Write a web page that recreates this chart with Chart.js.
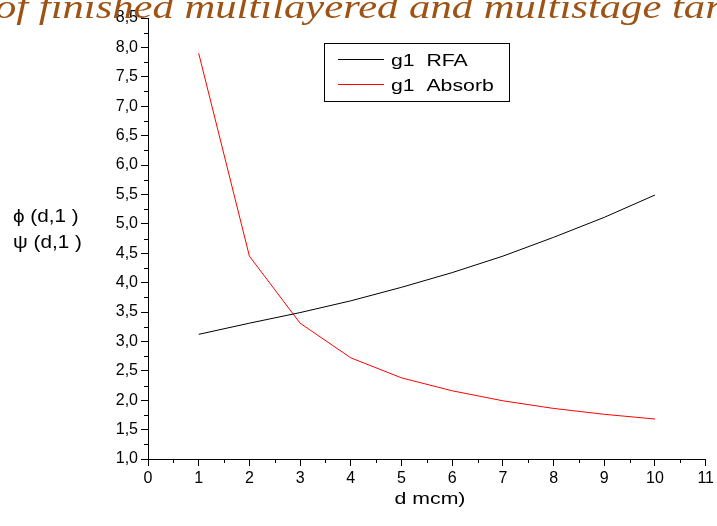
<!DOCTYPE html>
<html>
<head>
<meta charset="utf-8">
<script src="https://cdn.jsdelivr.net/npm/chart.js@4"></script>
<style>
  html, body { margin: 0; padding: 0; background: #fff; }
  #wrap { width: 717px; height: 526px; position: relative; }
</style>
</head>
<body>
<div id="wrap"><canvas id="myChart"></canvas></div>
<script>
// values
const dValues = [1, 2, 3, 4, 5, 6, 7, 8, 9, 10];
const rfaValues = [3.12, 3.31, 3.49, 3.69, 3.92, 4.17, 4.45, 4.77, 5.11, 5.49];
const absorbValues = [7.9, 4.45, 3.31, 2.72, 2.38, 2.16, 1.99, 1.86, 1.76, 1.68];
const seriesNames = ["g1  RFA", "g1  Absorb"];
const titleText = "of finished multilayered and multistage targets";
const yTitleLines = ["\u03d5 (d,1 )", "\u03c8 (d,1 )"];
const xTitle = "d mcm)";

const toPoints = (ys) => dValues.map((d, i) => ({ x: d, y: ys[i] }));

// text in the picture is a bit wider than the fonts, so squeeze it out sideways
const stretchText = (c, text, x, y, sx, align) => {
    const w = c.measureText(text).width * sx;
    let left = x;
    if (align === "center") left = x - w / 2;
    c.save();
    c.textAlign = "left";
    c.translate(left, y);
    c.scale(sx, 1);
    c.fillText(text, 0, 0);
    c.restore();
};

// minor ticks, legend box and loose text
const extras = {
    id: "extras",
    afterDraw(chart) {
        const c = chart.ctx;
        const xs = chart.scales.x, ys = chart.scales.y;
        const area = chart.chartArea;
        c.save();
        c.strokeStyle = "#000";
        c.lineWidth = 1;
        c.beginPath();
        for (let v = 1.25; v < 8.5; v += 0.5) {
            const py = Math.round(ys.getPixelForValue(v)) + 0.5;
            c.moveTo(area.left - 4, py);
            c.lineTo(area.left, py);
        }
        for (let v = 0.5; v < 11; v += 1) {
            const px = Math.round(xs.getPixelForValue(v)) + 0.5;
            c.moveTo(px, area.bottom);
            c.lineTo(px, area.bottom + 4);
        }
        c.stroke();

        // legend
        c.strokeStyle = "#000";
        c.strokeRect(324.5, 43.5, 185, 58);
        c.font = "17px 'Liberation Sans', Arial, sans-serif";
        c.textBaseline = "alphabetic";
        chart.data.datasets.forEach((ds, i) => {
            const ly = 59 + i * 25;
            c.strokeStyle = ds.borderColor;
            c.beginPath();
            c.moveTo(338, ly + 0.5);
            c.lineTo(384, ly + 0.5);
            c.stroke();
            c.fillStyle = "#000";
            stretchText(c, ds.label, 391, ly + 7, 1.25, "left");
        });

        // y title
        c.font = "18px 'Liberation Sans', 'DejaVu Sans', sans-serif";
        stretchText(c, yTitleLines[0], 13, 222, 1.15, "left");
        stretchText(c, yTitleLines[1], 13, 248, 1.15, "left");

        // x title
        c.font = "17px 'Liberation Sans', Arial, sans-serif";
        stretchText(c, xTitle, 430, 504, 1.25, "center");

        // big title, clipped by canvas edges
        c.fillStyle = "rgb(158, 82, 20)";
        c.font = "italic 33px 'Liberation Serif', 'Times New Roman', serif";
        const w2 = c.measureText("of finished multilayered and multistage ").width;
        const sx = (672 + 5) / w2;
        stretchText(c, titleText, -5, 18, sx, "left");
        c.restore();
    }
};

const ctx = document.getElementById("myChart").getContext("2d");
const myChart = new Chart(ctx, {
    type: "line",
    data: {
        datasets: [
            {
                label: seriesNames[0],
                data: toPoints(rfaValues),
                borderColor: "#000000",
                borderWidth: 1,
                pointRadius: 0,
                tension: 0
            },
            {
                label: seriesNames[1],
                data: toPoints(absorbValues),
                borderColor: "#ff0000",
                borderWidth: 1,
                pointRadius: 0,
                tension: 0
            }
        ]
    },
    options: {
        responsive: true,
        maintainAspectRatio: false,
        animation: false,
        layout: { padding: { left: 78, right: 9, top: 18, bottom: 7 } },
        plugins: { legend: { display: false }, tooltip: { enabled: false } },
        scales: {
            x: {
                type: "linear",
                min: 0,
                max: 11,
                afterFit: (s) => { s.height = 60; },
                ticks: {
                    stepSize: 1,
                    color: "#000",
                    padding: 3,
                    maxRotation: 0,
                    font: { family: "'Liberation Sans', Arial, sans-serif", size: 16 }
                },
                grid: { drawOnChartArea: false, tickLength: 7, color: "#000" },
                border: { color: "#000", width: 1 }
            },
            y: {
                min: 1,
                max: 8.5,
                afterFit: (s) => { s.width = 70; },
                ticks: {
                    stepSize: 0.5,
                    color: "#000",
                    padding: 3,
                    font: { family: "'Liberation Sans', Arial, sans-serif", size: 16 },
                    callback: (v) => v.toFixed(1).replace(".", ",")
                },
                grid: { drawOnChartArea: false, tickLength: 7, color: "#000" },
                border: { color: "#000", width: 1 }
            }
        }
    },
    plugins: [extras]
});
</script>
</body>
</html>
